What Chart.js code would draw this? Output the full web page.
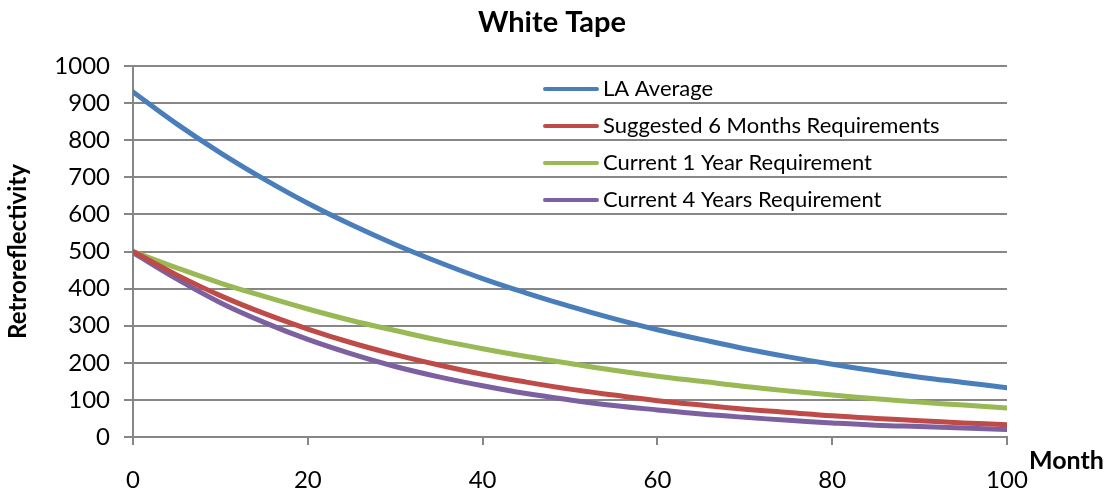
<!DOCTYPE html>
<html>
<head>
<meta charset="utf-8">
<script src="https://cdn.jsdelivr.net/npm/chart.js@4.4.1/dist/chart.umd.min.js"></script>
<style>
  html, body { margin: 0; padding: 0; background: #fff; }
  #wrap { width: 1108px; height: 490px; }
</style>
</head>
<body>
<div id="wrap"><canvas id="tapeChart" width="1108" height="490"></canvas></div>
<script>
// months (every 5)
const months = [0, 5, 10, 15, 20, 25, 30, 35, 40, 45, 50, 55, 60, 65, 70, 75, 80, 85, 90, 95, 100];

const laAverage = [930, 844, 766, 695, 630, 572, 519, 471, 427, 388, 352, 319, 289, 263, 238, 216, 196, 178, 161, 147, 133];
const suggested6Months = [500, 437, 381, 333, 291, 254, 222, 194, 169, 148, 129, 113, 98, 86, 75, 66, 57, 50, 44, 38, 33];
const current1Year = [500, 456, 415, 379, 345, 314, 287, 261, 238, 217, 198, 180, 164, 150, 136, 124, 113, 103, 94, 86, 78];
const current4Years = [497, 426, 362, 309, 263, 224, 190, 162, 138, 117, 100, 85, 73, 62, 53, 45, 38, 32, 28, 24, 20];

const seriesLabels = ['LA Average', 'Suggested 6 Months Requirements', 'Current 1 Year Requirement', 'Current 4 Years Requirement'];
const seriesColors = ['#4A7EBB', '#BE4B48', '#98B954', '#7D60A0'];

const FONT = 'Lato, "Open Sans", sans-serif';

function toPoints(values) {
    return values.map(function (v, i) { return { x: months[i], y: v }; });
}

// title, "Month" label and the legend inside the plot area
const decorPlugin = {
    id: 'decor',
    afterDraw: function (chart) {
        const ctx = chart.ctx;
        const area = chart.chartArea;
        ctx.save();
        ctx.fillStyle = '#000';
        ctx.textBaseline = 'middle';

        ctx.font = 'bold 29px ' + FONT;
        ctx.textAlign = 'center';
        ctx.fillText('White Tape', 552, 23);

        ctx.font = 'bold 25px ' + FONT;
        ctx.textAlign = 'left';
        ctx.fillText('Month', area.right + 22, area.bottom + 24);

        ctx.font = '22px ' + FONT;
        chart.data.datasets.forEach(function (ds, i) {
            const y = 89 + i * 37;
            ctx.strokeStyle = ds.borderColor;
            ctx.lineWidth = 4;
            ctx.lineCap = 'round';
            ctx.beginPath();
            ctx.moveTo(545, y);
            ctx.lineTo(597, y);
            ctx.stroke();
            ctx.fillText(ds.label, 603, y);
        });
        ctx.restore();
    }
};

document.addEventListener('DOMContentLoaded', function () {
    const ctx = document.getElementById('tapeChart');
    new Chart(ctx, {
        type: 'line',
        data: {
            datasets: seriesLabels.map(function (label, i) {
                return {
                    label: label,
                    data: toPoints([laAverage, suggested6Months, current1Year, current4Years][i]),
                    borderColor: seriesColors[i],
                    backgroundColor: seriesColors[i],
                    borderWidth: 5,
                    pointRadius: 0,
                    tension: 0.4,
                    borderCapStyle: 'round',
                    fill: false
                };
            })
        },
        options: {
            responsive: false,
            animation: false,
            layout: { padding: { top: 66, right: 101, left: 0, bottom: 0 } },
            plugins: {
                legend: { display: false },
                title: { display: false },
                tooltip: { enabled: false }
            },
            scales: {
                x: {
                    type: 'linear',
                    min: 0,
                    max: 100,
                    afterFit: function (scale) { scale.height = 53; },
                    ticks: {
                        stepSize: 20,
                        padding: 21,
                        color: '#000',
                        font: { family: FONT, size: 24 }
                    },
                    grid: {
                        drawOnChartArea: false,
                        drawTicks: true,
                        tickLength: 8,
                        color: '#868686',
                        lineWidth: 2
                    },
                    border: { color: '#868686', width: 2 }
                },
                y: {
                    min: 0,
                    max: 1000,
                    afterFit: function (scale) { scale.width = 133; },
                    ticks: {
                        stepSize: 100,
                        padding: 14,
                        color: '#000',
                        font: { family: FONT, size: 24 },
                        callback: function (value) { return String(value); }
                    },
                    grid: {
                        color: '#868686',
                        lineWidth: 2,
                        tickLength: 9
                    },
                    border: { color: '#868686', width: 2 },
                    title: {
                        display: true,
                        text: 'Retroreflectivity',
                        color: '#000',
                        font: { family: FONT, size: 24, weight: 'bold' },
                        padding: { top: 4, bottom: 0 }
                    }
                }
            }
        },
        plugins: [decorPlugin]
    });
});
</script>
</body>
</html>
